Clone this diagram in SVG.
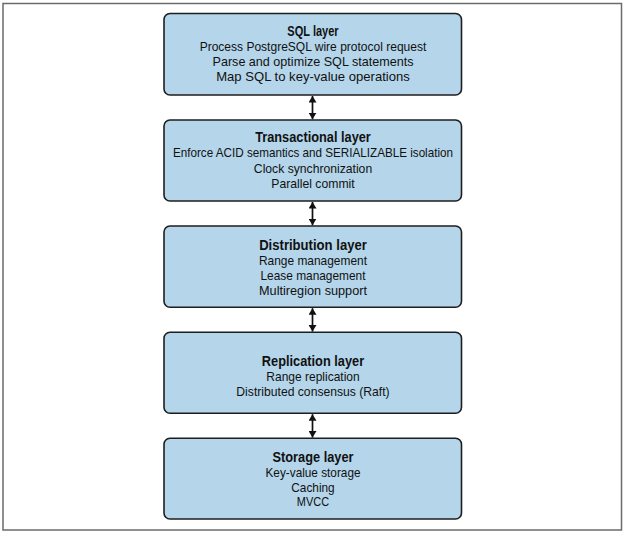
<svg xmlns="http://www.w3.org/2000/svg" width="628" height="535" viewBox="0 0 628 535">
<style>
.frame{fill:#fff;stroke:#6b6b6b;stroke-width:1.5}
.box{fill:#b4d5ea;stroke:#1e1e1e;stroke-width:1.6}
.t{font-family:"Liberation Sans",Arial,sans-serif;font-size:15px;font-weight:bold;fill:#111;text-anchor:middle}
.l{font-family:"Liberation Sans",Arial,sans-serif;font-size:13.5px;fill:#111;text-anchor:middle}
.conn{stroke:#111;stroke-width:1.7;fill:none;marker-start:url(#ah);marker-end:url(#ah)}
</style>
<defs>
<marker id="ah" markerUnits="userSpaceOnUse" markerWidth="7" markerHeight="8" refX="6.5" refY="4" orient="auto-start-reverse" viewBox="0 0 7 8">
<path d="M0,0 L6.5,4 L0,8 z" fill="#111"/>
</marker>
</defs>
<rect class="frame" x="3" y="3.5" width="618.5" height="526.5"/>
<g id="sql-layer">
<rect class="box" x="164" y="13.5" width="297.5" height="81.5" rx="6"/>
<text class="t" x="313" y="36" textLength="51.3" lengthAdjust="spacingAndGlyphs">SQL layer</text>
<text class="l" x="313" y="51" textLength="226.7" lengthAdjust="spacingAndGlyphs">Process PostgreSQL wire protocol request</text>
<text class="l" x="313" y="66" textLength="201" lengthAdjust="spacingAndGlyphs">Parse and optimize SQL statements</text>
<text class="l" x="313" y="81" textLength="193.7" lengthAdjust="spacingAndGlyphs">Map SQL to key-value operations</text>
</g>
<g id="transactional-layer">
<rect class="box" x="164" y="120" width="297.5" height="81" rx="6"/>
<text class="t" x="313" y="141.7" textLength="115.7" lengthAdjust="spacingAndGlyphs">Transactional layer</text>
<text class="l" x="313" y="157.2" textLength="280" lengthAdjust="spacingAndGlyphs">Enforce ACID semantics and SERIALIZABLE isolation</text>
<text class="l" x="313" y="172.6" textLength="118.3" lengthAdjust="spacingAndGlyphs">Clock synchronization</text>
<text class="l" x="313" y="188" textLength="83.3" lengthAdjust="spacingAndGlyphs">Parallel commit</text>
</g>
<g id="distribution-layer">
<rect class="box" x="164" y="226" width="297.5" height="81.3" rx="6"/>
<text class="t" x="313" y="249.7" textLength="107.7" lengthAdjust="spacingAndGlyphs">Distribution layer</text>
<text class="l" x="313" y="264.5" textLength="108" lengthAdjust="spacingAndGlyphs">Range management</text>
<text class="l" x="313" y="279.5" textLength="105" lengthAdjust="spacingAndGlyphs">Lease management</text>
<text class="l" x="313" y="294.5" textLength="108" lengthAdjust="spacingAndGlyphs">Multiregion support</text>
</g>
<g id="replication-layer">
<rect class="box" x="164" y="332.3" width="297.5" height="81" rx="6"/>
<text class="t" x="313" y="365.7" textLength="102.3" lengthAdjust="spacingAndGlyphs">Replication layer</text>
<text class="l" x="313" y="381" textLength="93.3" lengthAdjust="spacingAndGlyphs">Range replication</text>
<text class="l" x="313" y="396" textLength="153.3" lengthAdjust="spacingAndGlyphs">Distributed consensus (Raft)</text>
</g>
<g id="storage-layer">
<rect class="box" x="164" y="438.3" width="297.5" height="80.7" rx="6"/>
<text class="t" x="313" y="461.7" textLength="81" lengthAdjust="spacingAndGlyphs">Storage layer</text>
<text class="l" x="313" y="476.5" textLength="95" lengthAdjust="spacingAndGlyphs">Key-value storage</text>
<text class="l" x="313" y="491.5" textLength="43.3" lengthAdjust="spacingAndGlyphs">Caching</text>
<text class="l" x="313" y="506.3" textLength="32.3" lengthAdjust="spacingAndGlyphs">MVCC</text>
</g>
<g id="connectors">
<line class="conn" x1="312.5" y1="96" x2="312.5" y2="119.2"/>
<line class="conn" x1="312.5" y1="202" x2="312.5" y2="225.2"/>
<line class="conn" x1="312.5" y1="308.2" x2="312.5" y2="331.5"/>
<line class="conn" x1="312.5" y1="414.2" x2="312.5" y2="437.5"/>
</g>
</svg>
